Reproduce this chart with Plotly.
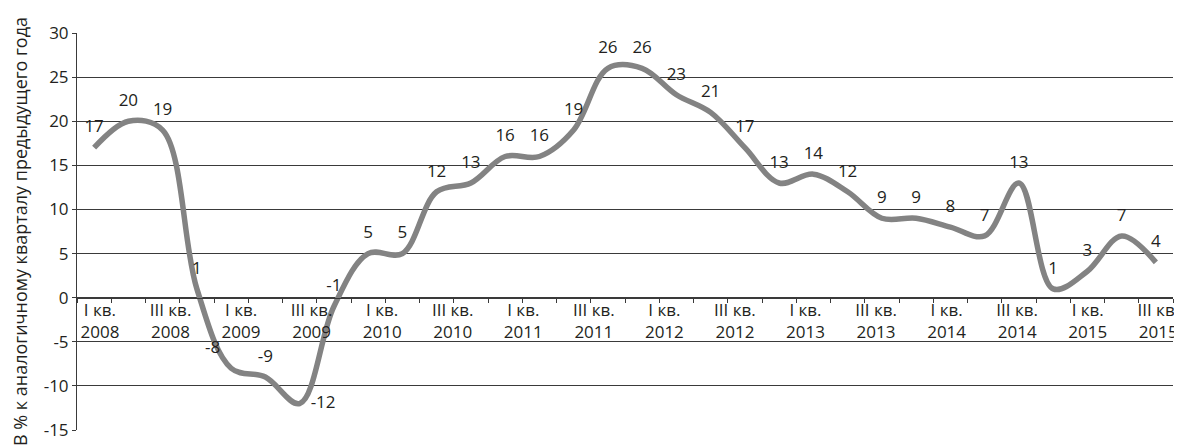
import plotly.graph_objects as go

# quarterly growth, % to same quarter of previous year (I кв. 2008 .. IV кв. 2015)
values = [17, 20, 19, 1, -8, -9, -12, -1,
          5, 5, 12, 13, 16, 16, 19, 26,
          26, 23, 21, 17, 13, 14, 12, 9,
          9, 8, 7, 13, 1, 3, 7, 4]
quarter_labels = ["I кв.<br>2008", "III кв.<br>2008", "I кв.<br>2009", "III кв.<br>2009",
                  "I кв.<br>2010", "III кв.<br>2010", "I кв.<br>2011", "III кв.<br>2011",
                  "I кв.<br>2012", "III кв.<br>2012", "I кв.<br>2013", "III кв.<br>2013",
                  "I кв.<br>2014", "III кв.<br>2014", "I кв.<br>2015", "III кв.<br>2015"]
y_ticks = [-15, -10, -5, 0, 5, 10, 15, 20, 25, 30]

FONT = "Open Sans"
TXT = "#231f20"
GRID = "#3a3a3a"

x = list(range(len(values)))
text_pos = ["top center"] * len(values)
text_pos[4] = "top left"
text_pos[6] = "middle right"

fig = go.Figure()
fig.add_trace(go.Scatter(
    x=x, y=values, mode="lines+markers+text",
    line=dict(color="#838383", width=5.5, shape="spline", smoothing=1.0),
    # transparent markers only push the value labels away from the line
    marker=dict(size=16, color="rgba(0,0,0,0)"),
    text=[str(v) for v in values], textposition=text_pos,
    textfont=dict(family=FONT, size=17, color=TXT),
    hoverinfo="skip", showlegend=False,
))
# invisible trace so the label axis is drawn
fig.add_trace(go.Scatter(
    x=x, y=values, mode="lines", xaxis="x2",
    line=dict(width=0), hoverinfo="skip", showlegend=False,
))

zero_pos = (0 - y_ticks[0]) / (y_ticks[-1] - y_ticks[0])
n = len(values)

# the page body has an 8px margin, so the figure is a bit smaller than the window
fig.update_layout(
    width=1174, height=440,
    margin=dict(l=69, r=9, t=25, b=18),
    paper_bgcolor="white", plot_bgcolor="white",
    font=dict(family=FONT, size=17, color=TXT),
    xaxis=dict(
        range=[-0.5, n - 0.5],
        tickvals=[i - 0.5 for i in range(n + 1)],
        showticklabels=False, ticks="outside", ticklen=4, tickcolor=GRID,
        showline=True, linecolor=GRID, linewidth=1,
        showgrid=False, zeroline=False, automargin=False,
        anchor="free", position=zero_pos,
    ),
    xaxis2=dict(
        range=[-0.5, n - 0.5], overlaying="x",
        tickvals=[0.17 + 2.06 * k for k in range(len(quarter_labels))],
        ticktext=quarter_labels, ticks="", ticklabelstandoff=0,
        tickfont=dict(family=FONT, size=17, color=TXT),
        showline=False, showgrid=False, zeroline=False, automargin=False,
        anchor="free", position=zero_pos, side="bottom",
    ),
    yaxis=dict(
        range=[y_ticks[0], y_ticks[-1]], tickvals=y_ticks,
        ticktext=[str(v) for v in y_ticks],
        showgrid=True, gridcolor=GRID, gridwidth=1,
        zeroline=True, zerolinecolor=GRID, zerolinewidth=1,
        showline=True, linecolor=GRID, linewidth=1,
        ticks="outside", ticklen=4, tickcolor=GRID, automargin=False,
        tickfont=dict(family=FONT, size=17, color=TXT),
        title=dict(text="В % к аналогичному кварталу предыдущего года",
                   font=dict(family=FONT, size=18, color=TXT), standoff=12),
    ),
)

fig.write_html("out.html")
